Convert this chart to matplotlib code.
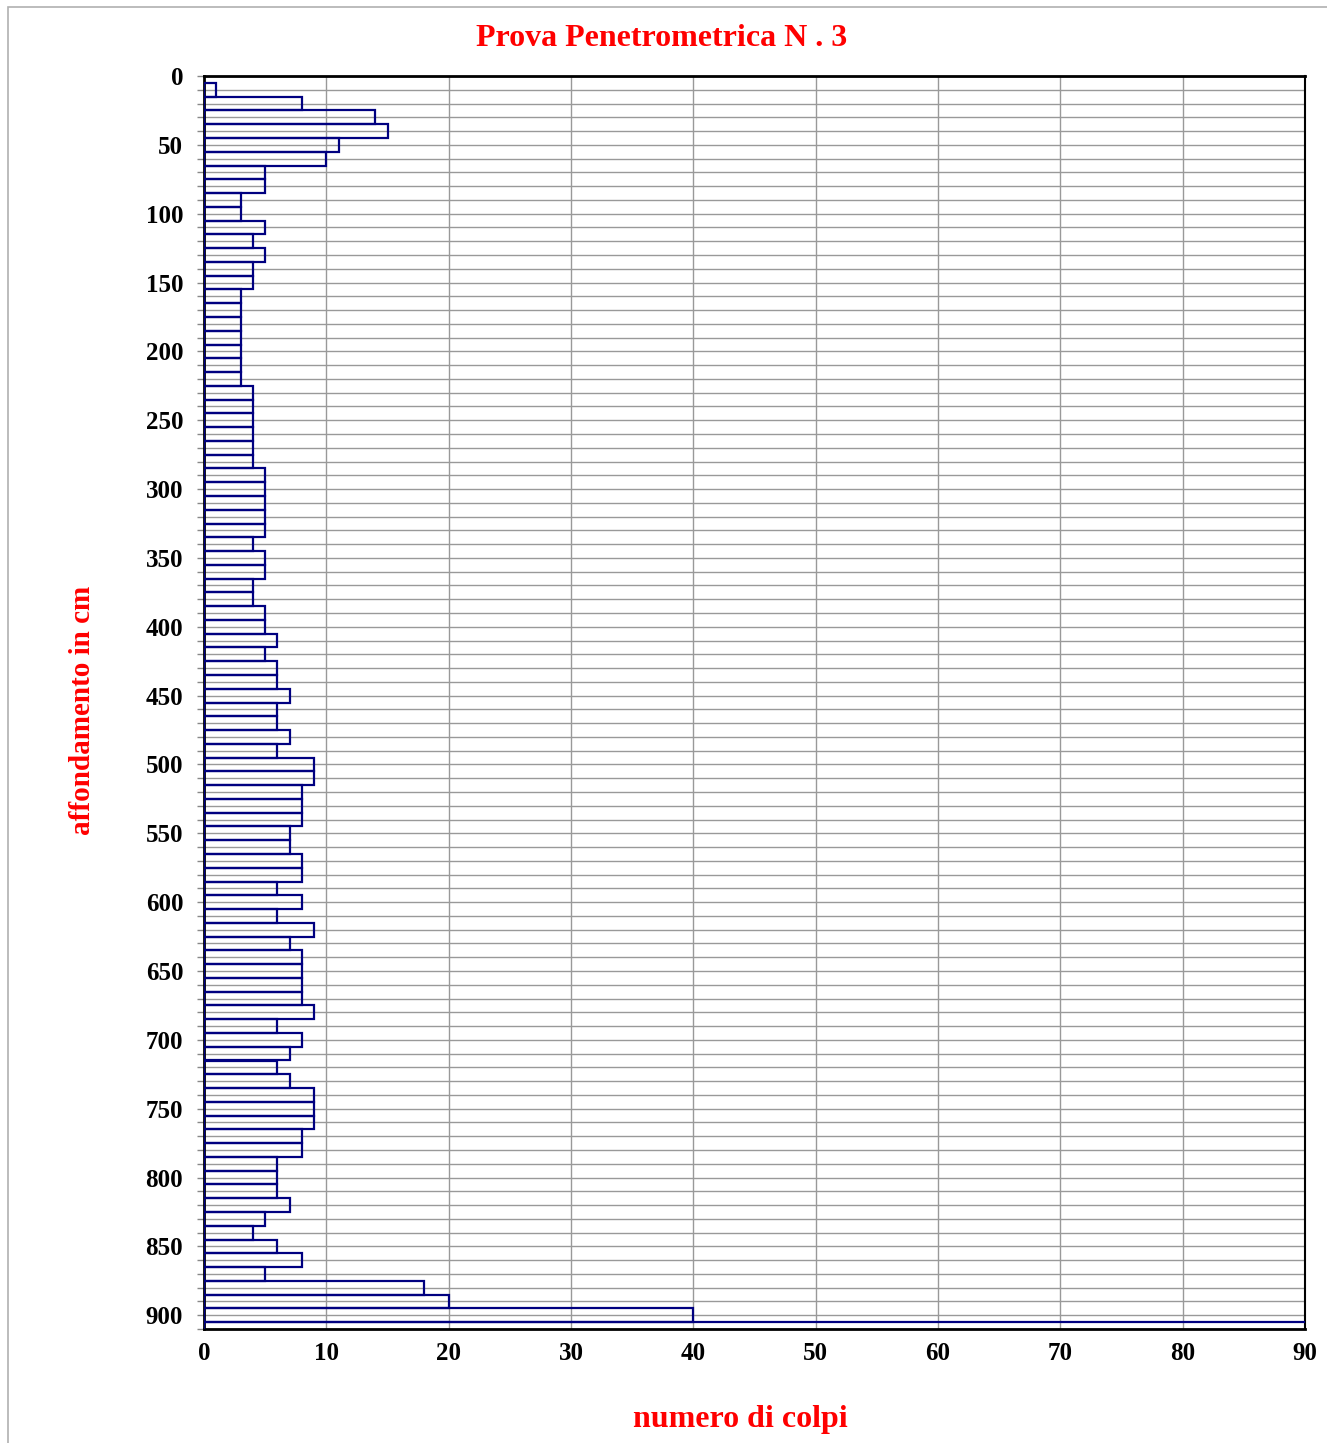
"""Prova penetrometrica N. 3 - numero di colpi per 10 cm di affondamento."""

import matplotlib.pyplot as plt
from matplotlib.patches import Rectangle
from matplotlib.ticker import MultipleLocator

# depth of each 10 cm step (cm) and blows counted there
DEPTHS = list(range(10, 920, 10))
BLOWS = [
    1, 8, 14, 15, 11, 10, 5, 5, 3, 3,
    5, 4, 5, 4, 4, 3, 3, 3, 3, 3,
    3, 3, 4, 4, 4, 4, 4, 4, 5, 5,
    5, 5, 5, 4, 5, 5, 4, 4, 5, 5,
    6, 5, 6, 6, 7, 6, 6, 7, 6, 9,
    9, 8, 8, 8, 7, 7, 8, 8, 6, 8,
    6, 9, 7, 8, 8, 8, 8, 9, 6, 8,
    7, 6, 7, 9, 9, 9, 8, 8, 6, 6,
    6, 7, 5, 4, 6, 8, 5, 18, 20, 40,
    100,
]

TITLE = "Prova Penetrometrica N . 3"
X_LABEL = "numero di colpi"
Y_LABEL = "affondamento in cm"

SERIF = ["Liberation Serif", "DejaVu Serif"]
RED = "#ff0000"
NAVY = "#000080"


def main() -> None:
    fig = plt.figure(figsize=(13.27, 14.43), dpi=100)
    ax = fig.add_axes([204 / 1327, 1 - 1329 / 1443, 1101 / 1327, 1253 / 1443])

    # light frame around the chart area
    fig.patches.append(Rectangle((8 / 1327, -0.1), 1.2, 1 - 7 / 1443 + 0.1,
                                 transform=fig.transFigure, fill=False,
                                 edgecolor="#b0b0b0", linewidth=1.2))

    ax.barh(DEPTHS, BLOWS, height=10, facecolor="none", edgecolor=NAVY,
            linewidth=1.6, zorder=3)

    ax.set_xlim(0, 90)
    ax.set_ylim(910, 0)

    ax.xaxis.set_major_locator(MultipleLocator(10))
    ax.yaxis.set_major_locator(MultipleLocator(50))
    ax.yaxis.set_minor_locator(MultipleLocator(10))
    ax.grid(True, which="both", color="#999999", linewidth=1.0, zorder=1)
    ax.set_axisbelow(True)

    ax.tick_params(axis="x", length=0, pad=9)
    ax.tick_params(axis="y", which="both", length=5, width=1, direction="out",
                   color="#888888", pad=10)
    for lab in ax.get_xticklabels() + ax.get_yticklabels():
        lab.set_fontfamily(SERIF)
        lab.set_fontweight("bold")
        lab.set_fontsize(18)

    for side in ("left", "top", "bottom"):
        ax.spines[side].set_linewidth(2)
    ax.spines["right"].set_linewidth(1.5)

    fig.text(662 / 1327, 1 - 39 / 1443, TITLE, ha="center", va="center",
             color=RED, fontsize=23, fontweight="bold", family=SERIF)
    fig.text(740 / 1327, 1 - 1419 / 1443, X_LABEL, ha="center", va="center",
             color=RED, fontsize=23, fontweight="bold", family=SERIF)
    fig.text(82 / 1327, 1 - 710 / 1443, Y_LABEL, ha="center", va="center",
             rotation=90, color=RED, fontsize=21, fontweight="bold",
             family=SERIF)

    fig.savefig("out.png", dpi=100)
    plt.close(fig)


if __name__ == "__main__":
    main()
